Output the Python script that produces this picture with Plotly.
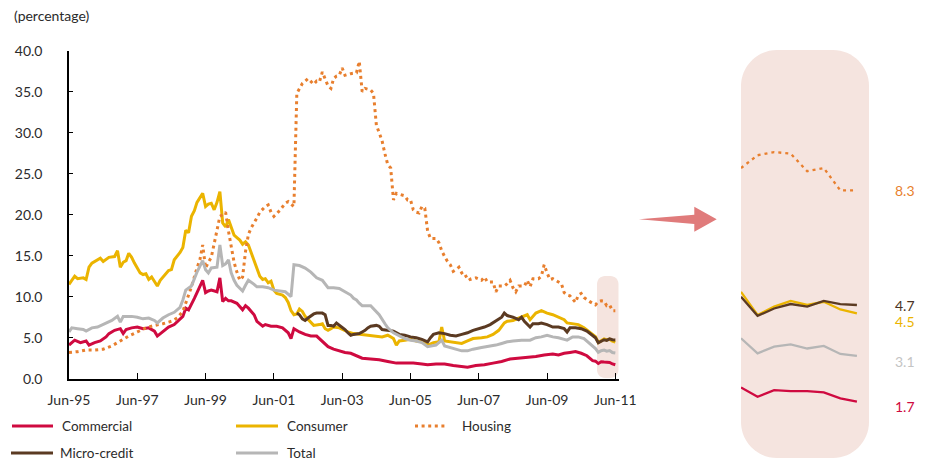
import plotly.graph_objects as go
import pandas as pd

# The page body has an 8px margin, so the figure is 8px smaller and all reference
# pixel positions are shifted by that offset.
OFF = 8
W, H = 926 - OFF, 461 - OFF
START = pd.Timestamp("1995-06-01")

# ---- data: month offsets from Jun-95 and values (percentage) ----
commercial_m = [0,2,4,6,7,9,11,13,14,16,18,19,20,22,24,26,28,30,31,33,35,37,39,40,41,42,44,45,47,48,
                49,50,52,53,54,55,56,57,59,61,62,63,65,66,67,68,69,71,73,75,77,78,79,81,83,85,87,89,91,93,
                95,97,99,101,103,106,109,112,115,118,121,124,126,129,132,135,138,140,143,146,149,152,155,158,161,164,167,170,172,174,
                176,178,180,182,184,185,186,187,188,189,190,191,192]
commercial_v = [4.1,4.7,4.4,4.6,4.1,4.4,4.6,5.1,5.5,5.9,6.1,5.5,6.0,6.2,6.3,6.1,6.2,5.8,5.2,5.8,
                6.3,6.6,7.3,7.6,8.6,8.4,9.8,10.5,12.0,10.5,10.7,10.8,10.6,12.3,9.4,9.8,9.5,9.5,9.2,8.4,
                8.9,8.6,7.8,7.0,6.7,6.4,6.6,6.4,6.4,6.2,5.6,4.9,6.1,5.7,5.4,5.2,5.2,4.5,3.9,3.6,
                3.4,3.2,3.1,2.8,2.5,2.4,2.3,2.1,1.9,1.9,1.9,1.8,1.7,1.8,1.8,1.6,1.5,1.4,1.6,1.7,
                1.9,2.1,2.4,2.5,2.6,2.7,2.9,3.0,2.9,3.1,3.2,3.3,3.1,2.8,2.2,2.14,1.85,2.06,2.03,2.03,
                1.99,1.80,1.70]

consumer_m = [0,2,3,5,6,7,8,10,11,12,14,16,17,18,19,20,21,22,23,25,26,27,28,29,30,31,32,34,35,36,
              37,39,40,41,42,43,44,45,47,48,49,50,51,52,53,54,55,56,57,58,59,60,61,62,63,64,65,66,67,68,
              69,70,71,72,73,75,76,77,78,79,80,81,82,83,84,85,86,88,89,90,91,92,93,95,97,98,100,103,105,108,
              110,112,114,115,116,118,120,122,124,126,128,130,131,132,134,136,138,140,142,145,
              147,149,151,153,154,156,158,160,161,162,164,166,168,170,172,174,175,177,179,181,
              183,184,185,186,187,188,189,190,191,192]
consumer_v = [11.5,12.5,12.2,12.3,12.1,13.6,14.1,14.5,14.7,14.3,14.8,14.9,15.6,13.6,14.2,14.4,15.3,14.8,14.1,12.9,
              12.7,12.8,12.1,12.4,11.9,11.3,12.0,12.8,13.2,13.3,14.5,15.4,16.0,18.1,17.8,19.8,20.5,21.5,22.6,21.0,
              21.3,21.4,20.6,21.5,22.8,19.0,18.5,19.4,18.5,17.5,17.2,16.9,16.4,16.7,16.3,15.4,14.5,13.6,12.5,12.1,
              12.2,11.7,11.9,10.8,10.4,10.2,9.9,9.3,8.3,7.8,7.9,8.5,8.2,7.6,7.2,6.9,6.5,6.6,6.7,6.1,
              5.9,6.1,6.3,6.2,5.9,5.7,5.5,5.4,5.3,5.2,5.1,5.3,4.9,4.1,4.6,4.7,4.8,4.6,4.5,4.1,
              4.4,4.5,6.3,4.6,4.5,4.4,4.3,4.6,4.9,5.0,5.1,5.4,5.9,6.8,7.0,7.1,7.4,7.7,7.8,7.2,
              8.0,8.3,8.0,7.8,7.5,7.2,6.8,6.7,6.6,6.2,5.7,5.4,5.13,4.41,4.67,4.85,4.72,4.82,4.58,4.46]

housing_m = [0,3,6,9,12,15,18,21,24,27,30,33,36,38,40,41,43,45,46,47,48,49,50,52,53,54,55,56,57,58,
             59,60,61,62,63,64,66,67,69,70,71,72,74,76,77,78,79,80,81,82,84,85,86,87,88,89,91,92,93,94,
             95,96,97,99,101,102,103,104,106,107,108,109,110,111,112,113,114,115,117,118,
             119,120,121,122,123,124,125,126,127,129,130,131,132,133,134,135,136,137,138,139,
             140,141,143,144,145,146,147,149,150,151,153,154,155,156,157,158,160,161,162,163,
             165,166,167,168,169,170,171,172,173,174,175,176,177,178,179,180,181,182,183,184,
             185,186,187,188,189,190,191,192]
housing_v = [3.2,3.3,3.5,3.5,3.6,4.0,4.6,5.2,5.7,6.2,6.5,6.7,7.0,7.4,8.2,9.2,11.2,13.5,14.5,16.3,
             13.5,14.2,14.8,18.1,19.8,20.0,20.3,18.0,15.9,14.2,13.0,12.0,12.4,15.5,17.6,18.4,19.6,20.3,21.0,21.2,
             20.3,19.8,20.5,21.4,21.6,21.3,21.0,34.8,35.4,36.0,36.6,36.2,35.9,36.3,36.2,37.4,35.7,35.4,36.6,36.9,
             37.0,37.9,37.0,37.2,37.3,38.7,35.0,35.4,35.2,34.8,30.9,30.0,29.0,27.4,26.1,25.7,21.8,22.6,22.4,22.3,
             21.8,21.8,20.6,20.3,20.2,21.0,20.8,18.0,17.1,17.1,16.6,15.6,14.9,14.3,13.9,13.1,13.3,13.6,12.9,12.4,
             12.6,12.1,12.3,12.1,12.0,12.4,11.8,11.8,10.6,11.3,11.3,11.6,12.0,11.1,10.6,11.3,11.3,12.0,11.2,12.2,
             12.2,12.5,13.9,12.9,12.1,12.2,12.0,11.9,11.6,10.5,10.2,10.1,9.7,9.3,10.2,10.4,9.9,9.7,9.4,9.2,
             9.0,9.4,9.5,9.45,8.9,9.0,8.3,8.3]

micro_m = [80,81,82,83,84,85,86,87,89,90,91,92,93,94,96,97,98,99,100,102,
           103,104,105,106,108,109,110,112,114,116,118,120,122,124,126,127,128,130,132,134,
           136,138,140,142,144,146,148,150,152,153,154,156,158,159,160,162,163,165,166,168,
           170,172,174,175,176,178,180,182,184,185,186,187,188,189,190,191,192]
micro_v = [8.0,7.8,7.3,7.1,7.4,7.7,7.9,8.0,8.0,7.8,6.5,6.5,6.4,6.8,6.3,6.0,5.6,5.3,5.4,5.5,
           5.7,5.9,6.2,6.4,6.5,6.4,6.0,5.9,5.8,5.4,5.3,5.1,5.0,4.8,4.5,5.0,5.4,5.6,5.5,5.3,
           5.2,5.4,5.6,5.9,6.1,6.3,6.6,7.1,7.5,8.0,7.7,7.5,7.2,7.5,7.0,6.3,6.7,6.7,6.8,6.6,
           6.3,6.3,6.1,5.7,6.2,6.2,6.1,5.8,5.3,4.98,4.38,4.61,4.75,4.67,4.85,4.75,4.72]

total_m = [0,1,3,5,6,8,10,12,13,15,17,18,19,22,24,26,28,30,31,33,35,37,39,40,41,42,43,45,47,48,
           49,50,52,53,54,55,56,57,58,59,61,62,63,65,66,68,70,72,74,76,78,79,81,83,85,87,89,90,91,93,
           95,97,99,100,101,102,103,106,108,109,111,112,114,116,118,120,122,124,126,129,
           131,132,134,136,138,140,142,145,147,150,152,154,156,159,162,164,166,168,170,172,
           174,175,177,179,181,183,184,185,186,187,188,189,190,191,192]
total_v = [5.7,6.2,6.1,6.0,5.8,6.2,6.3,6.6,6.8,7.1,7.6,6.9,7.6,7.6,7.5,7.3,7.4,7.1,6.8,7.4,
           7.8,8.1,8.7,9.6,10.8,11.0,11.3,13.0,14.4,13.3,12.9,13.5,13.6,16.3,13.8,14.0,14.5,12.9,12.0,11.4,
           10.7,11.4,12.0,11.5,11.2,11.2,11.1,10.8,10.7,10.6,10.0,13.9,13.8,13.5,13.0,12.3,12.0,11.6,11.1,11.1,
           11.0,10.6,10.2,9.8,9.6,9.2,8.9,8.9,8.2,7.8,6.7,6.2,5.6,5.2,4.9,4.7,4.6,4.4,3.9,4.1,
           4.7,4.0,3.8,3.6,3.4,3.4,3.6,3.8,3.9,4.1,4.3,4.5,4.6,4.7,4.7,5.0,5.1,5.3,5.1,5.0,
           4.8,4.7,5.1,5.1,4.9,4.3,3.9,3.68,3.21,3.42,3.49,3.36,3.44,3.19,3.13]

N_ZOOM = 8  # last 8 months shown in the zoom panel

C_COM, C_CON, C_HOU, C_MIC, C_TOT = "#cf0a40", "#ebb400", "#e87f2e", "#5b3a22", "#b6b6b6"
HOU_DASH = "3px,3.6px"

series = [
    ("Commercial", commercial_m, commercial_v, C_COM, "solid"),
    ("Consumer", consumer_m, consumer_v, C_CON, "solid"),
    ("Housing", housing_m, housing_v, C_HOU, HOU_DASH),
    ("Micro-credit", micro_m, micro_v, C_MIC, "solid"),
    ("Total", total_m, total_v, C_TOT, "solid"),
]


def to_dates(ms):
    return [START + pd.DateOffset(months=int(m)) for m in ms]


def px(x):
    return (x - OFF) / W


def py(y):
    return 1 - (y - OFF) / H


def rrect(x0, y0, x1, y1, r):
    k = 0.55 * r
    P = lambda x, y: f"{px(x):.5f},{py(y):.5f}"
    return (f"M {P(x0 + r, y0)} L {P(x1 - r, y0)} C {P(x1 - r + k, y0)} {P(x1, y0 + r - k)} {P(x1, y0 + r)} "
            f"L {P(x1, y1 - r)} C {P(x1, y1 - r + k)} {P(x1 - r + k, y1)} {P(x1 - r, y1)} "
            f"L {P(x0 + r, y1)} C {P(x0 + r - k, y1)} {P(x0, y1 - r + k)} {P(x0, y1 - r)} "
            f"L {P(x0, y0 + r)} C {P(x0, y0 + r - k)} {P(x0 + r - k, y0)} {P(x0 + r, y0)} Z")


FONT = "Lato"
TXT = "#2b2b2b"
PINK = "#f5e4df"

fig = go.Figure()

for name, ms, vs, col, dash in series:
    fig.add_trace(go.Scatter(x=to_dates(ms), y=vs, mode="lines", name=name,
                             line=dict(color=col, width=3, dash=dash),
                             showlegend=False, xaxis="x", yaxis="y"))
for name, ms, vs, col, dash in series:
    vals = vs[-N_ZOOM:]
    fig.add_trace(go.Scatter(x=list(range(N_ZOOM)), y=vals, mode="lines", name=name,
                             line=dict(color=col, width=2.3, dash=("3px,4px" if dash != "solid" else dash)),
                             showlegend=False, xaxis="x2", yaxis="y2"))

shapes = []
shapes.append(dict(type="path", path=rrect(597, 276, 618.5, 378, 8), xref="paper", yref="paper",
                   fillcolor=PINK, line=dict(width=0), layer="below"))
shapes.append(dict(type="path", path=rrect(741, 50, 869, 458, 36), xref="paper", yref="paper",
                   fillcolor=PINK, line=dict(width=0), layer="below"))
arrow = (f"M {px(639):.5f},{py(219.3):.5f} L {px(694.3):.5f},{py(214.8):.5f} L {px(694.3):.5f},{py(206.7):.5f} "
         f"L {px(716.7):.5f},{py(219.3):.5f} L {px(694.3):.5f},{py(231.7):.5f} L {px(694.3):.5f},{py(224):.5f} Z")
shapes.append(dict(type="path", path=arrow, xref="paper", yref="paper",
                   fillcolor="#e07b7b", line=dict(width=0)))

leg = [("Commercial", C_COM, "solid", 12, 53, 426, 60),
       ("Consumer", C_CON, "solid", 236, 278, 426, 285),
       ("Housing", C_HOU, HOU_DASH, 415, 447, 426, 460),
       ("Micro-credit", C_MIC, "solid", 11, 53, 453, 58),
       ("Total", C_TOT, "solid", 236, 278, 453, 285)]
annotations = []
for name, col, dash, x0, x1, yy, tx in leg:
    shapes.append(dict(type="line", xref="paper", yref="paper", x0=px(x0), x1=px(x1), y0=py(yy), y1=py(yy),
                       line=dict(color=col, width=3, dash=dash)))
    annotations.append(dict(text=name, x=px(tx), y=py(yy), xref="paper", yref="paper", xanchor="left",
                            yanchor="middle", showarrow=False, font=dict(family=FONT, size=13.5, color=TXT)))

annotations.append(dict(text="(percentage)", x=px(12), y=py(16), xref="paper", yref="paper", xanchor="left",
                        yanchor="middle", showarrow=False, font=dict(family=FONT, size=14, color=TXT)))

zl = [("8.3", C_HOU, 190), ("4.7", "#4a3323", 305), ("4.5", C_CON, 321), ("3.1", "#c4c4c4", 361), ("1.7", C_COM, 406)]
for t, col, yy in zl:
    annotations.append(dict(text=t, x=px(893), y=py(yy), xref="paper", yref="paper", xanchor="left",
                            yanchor="middle", showarrow=False, font=dict(family=FONT, size=14, color=col)))

fig.update_layout(
    template="none",
    width=W, height=H, margin=dict(l=0, r=0, t=0, b=0, pad=0, autoexpand=False),
    paper_bgcolor="white", plot_bgcolor="rgba(0,0,0,0)", showlegend=False,
    font=dict(family=FONT, size=14, color=TXT),
    shapes=shapes, annotations=annotations,
    xaxis=dict(domain=[px(69), px(618.5)], type="date", range=["1995-06-01", "2011-07-05"],
               tick0="1995-06-01", dtick="M24", tickformat="%b-%y", automargin=False,
               showline=True, linecolor="black", linewidth=1.5, ticks="inside", ticklen=6,
               tickcolor="black", tickwidth=1, showgrid=False, zeroline=False,
               ticklabelstandoff=8, tickfont=dict(family=FONT, size=14, color=TXT)),
    yaxis=dict(domain=[py(378.7), py(50.7)], range=[0, 40], dtick=5, tickformat=".1f", automargin=False,
               showline=True, linecolor="black", linewidth=1.5, ticks="inside", ticklen=4,
               tickcolor="black", showgrid=False, zeroline=False,
               ticklabelstandoff=22, tickfont=dict(family=FONT, size=14, color=TXT)),
    xaxis2=dict(domain=[px(741), px(869)], range=[0, 7.73], visible=False, anchor="y2", automargin=False),
    yaxis2=dict(domain=[py(458), py(50)], range=[-0.0625, 12.69], visible=False, anchor="x2", automargin=False),
)

fig.write_html("out.html")
